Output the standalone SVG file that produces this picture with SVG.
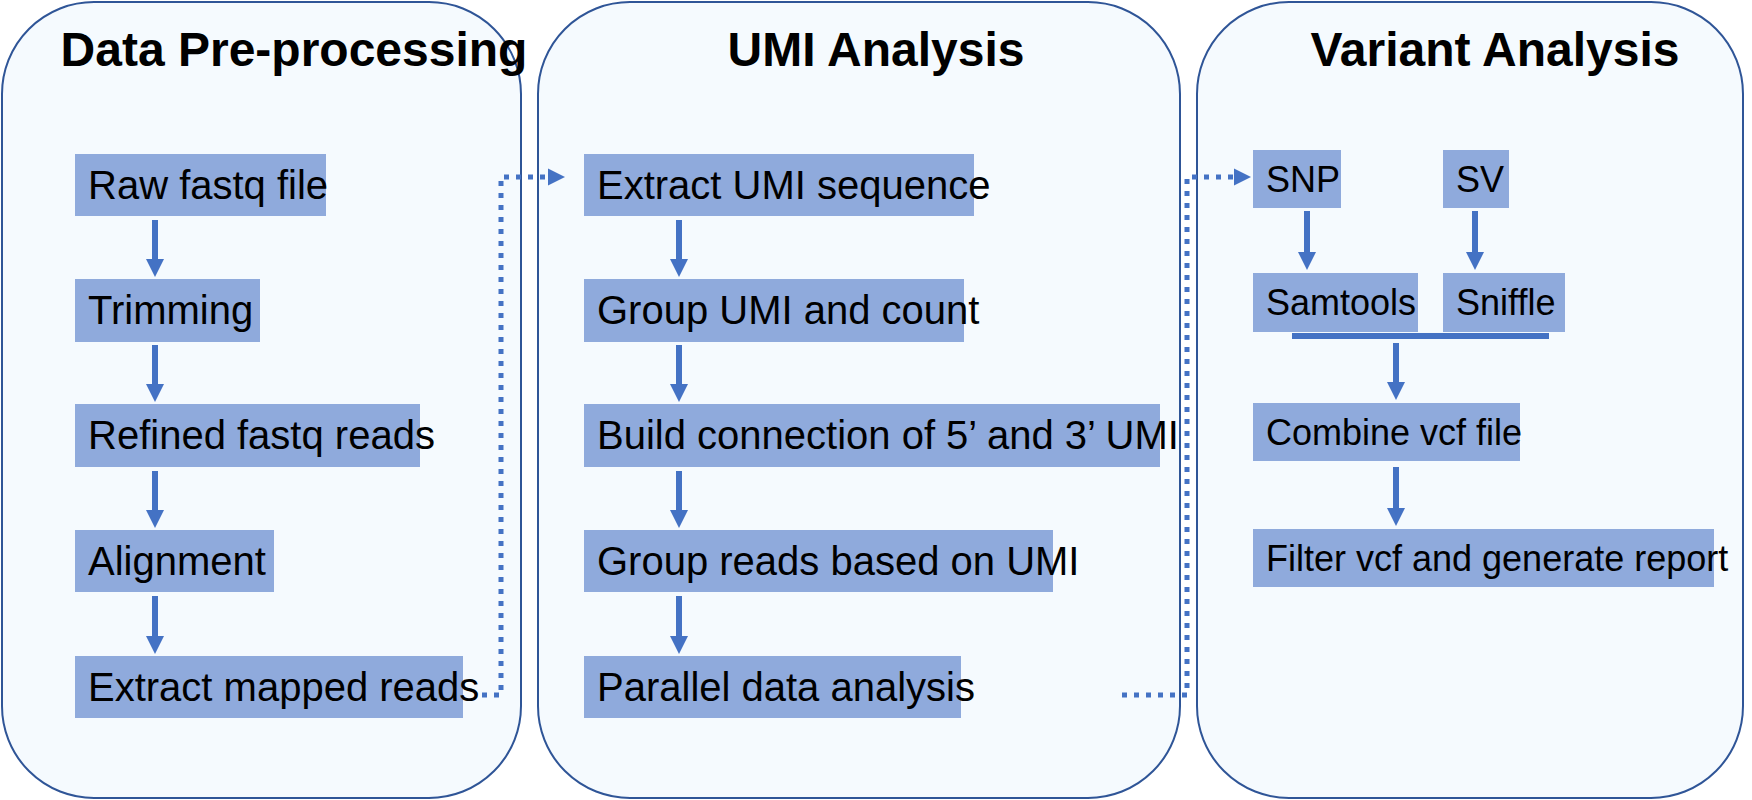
<svg xmlns="http://www.w3.org/2000/svg" width="1752" height="800" viewBox="0 0 1752 800">
<style>
.panel{fill:#F5FAFE;stroke:#2F5597;stroke-width:2}
.box{fill:#8FAADC}
.t{font-family:"Liberation Sans",Arial,sans-serif;font-size:40px;fill:#000}
.t3{font-family:"Liberation Sans",Arial,sans-serif;font-size:36px;fill:#000}
.title{font-family:"Liberation Sans",Arial,sans-serif;font-size:48px;font-weight:bold;fill:#000;text-anchor:middle}
.arr{stroke:#4472C4;stroke-width:6;fill:none}
.dot{stroke:#4472C4;stroke-width:5;fill:none;stroke-dasharray:5 7}
</style>
<defs>
<marker id="ah" markerWidth="18" markerHeight="18" refX="5" refY="9" orient="auto" markerUnits="userSpaceOnUse"><path d="M0,0 L18,9 L0,18 z" fill="#4472C4"/></marker>
</defs>
<g id="panel-preprocessing">
<rect class="panel" x="2" y="2" width="519" height="796" rx="92"/>
<text class="title" x="294" y="66">Data Pre-processing</text>
</g>
<g id="panel-umi">
<rect class="panel" x="538" y="2" width="642" height="796" rx="92"/>
<text class="title" x="876" y="66">UMI Analysis</text>
</g>
<g id="panel-variant">
<rect class="panel" x="1197" y="2" width="546" height="796" rx="92"/>
<text class="title" x="1495" y="66">Variant Analysis</text>
</g>
<g id="raw"><rect class="box" x="75" y="154" width="251" height="62"/><text class="t" x="88" y="199">Raw fastq file</text></g>
<g id="trim"><rect class="box" x="75" y="279" width="185" height="63"/><text class="t" x="88" y="324">Trimming</text></g>
<g id="refined"><rect class="box" x="75" y="404" width="345" height="63"/><text class="t" x="88" y="449">Refined fastq reads</text></g>
<g id="align"><rect class="box" x="75" y="530" width="199" height="62"/><text class="t" x="88" y="575">Alignment</text></g>
<g id="mapped"><rect class="box" x="75" y="656" width="388" height="62"/><text class="t" x="88" y="701">Extract mapped reads</text></g>
<g id="extract-umi"><rect class="box" x="584" y="154" width="390" height="62"/><text class="t" x="597" y="199">Extract UMI sequence</text></g>
<g id="group-umi"><rect class="box" x="584" y="279" width="380" height="63"/><text class="t" x="597" y="324">Group UMI and count</text></g>
<g id="build"><rect class="box" x="584" y="404" width="576" height="63"/><text class="t" x="597" y="449">Build connection of 5’ and 3’ UMI</text></g>
<g id="group-reads"><rect class="box" x="584" y="530" width="469" height="62"/><text class="t" x="597" y="575">Group reads based on UMI</text></g>
<g id="parallel"><rect class="box" x="584" y="656" width="377" height="62"/><text class="t" x="597" y="701">Parallel data analysis</text></g>
<g id="snp"><rect class="box" x="1253" y="150" width="88" height="58"/><text class="t3" x="1266" y="192">SNP</text></g>
<g id="sv"><rect class="box" x="1443" y="150" width="66" height="58"/><text class="t3" x="1456" y="192">SV</text></g>
<g id="samtools"><rect class="box" x="1253" y="273" width="165" height="59"/><text class="t3" x="1266" y="315">Samtools</text></g>
<g id="sniffle"><rect class="box" x="1443" y="273" width="122" height="59"/><text class="t3" x="1456" y="315">Sniffle</text></g>
<g id="combine"><rect class="box" x="1253" y="403" width="267" height="58"/><text class="t3" x="1266" y="445">Combine vcf file</text></g>
<g id="filter"><rect class="box" x="1253" y="529" width="461" height="58"/><text class="t3" x="1266" y="571">Filter vcf and generate report</text></g>
<g id="connectors">
<line class="arr" x1="155" y1="220" x2="155" y2="264" marker-end="url(#ah)"/>
<line class="arr" x1="155" y1="345" x2="155" y2="389" marker-end="url(#ah)"/>
<line class="arr" x1="155" y1="471" x2="155" y2="515" marker-end="url(#ah)"/>
<line class="arr" x1="155" y1="596" x2="155" y2="641" marker-end="url(#ah)"/>
<line class="arr" x1="679" y1="220" x2="679" y2="264" marker-end="url(#ah)"/>
<line class="arr" x1="679" y1="345" x2="679" y2="389" marker-end="url(#ah)"/>
<line class="arr" x1="679" y1="471" x2="679" y2="515" marker-end="url(#ah)"/>
<line class="arr" x1="679" y1="596" x2="679" y2="641" marker-end="url(#ah)"/>
<line class="arr" x1="1307" y1="211" x2="1307" y2="257" marker-end="url(#ah)"/>
<line class="arr" x1="1475" y1="211" x2="1475" y2="257" marker-end="url(#ah)"/>
<line class="arr" x1="1292" y1="336" x2="1549" y2="336"/>
<line class="arr" x1="1396" y1="343" x2="1396" y2="387" marker-end="url(#ah)"/>
<line class="arr" x1="1396" y1="467" x2="1396" y2="513" marker-end="url(#ah)"/>
<path class="dot" d="M482 695 H501 V177 H548"/>
<path d="M548 168.5 L565 177 L548 185.5 z" fill="#4472C4"/>
<path class="dot" d="M1122 695 H1187 V177 H1234"/>
<path d="M1234 168.5 L1251 177 L1234 185.5 z" fill="#4472C4"/>
</g>
</svg>
